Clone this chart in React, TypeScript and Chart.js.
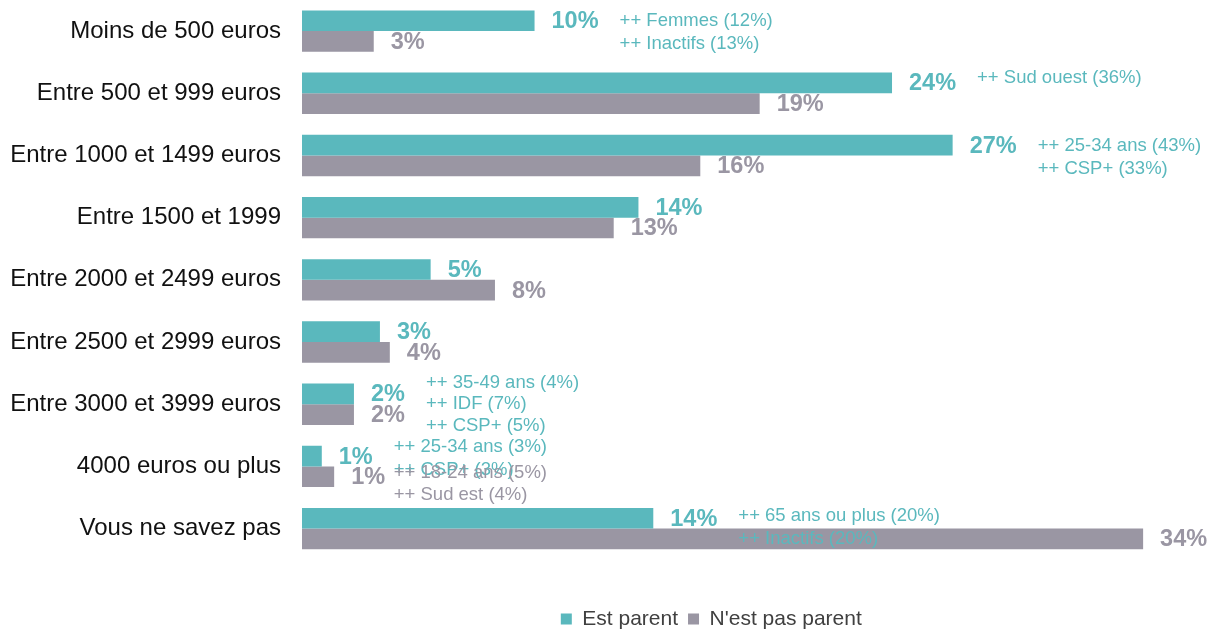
import React, { useEffect, useRef } from "react";
import { Chart, registerables } from "chart.js";

Chart.register(...registerables);

const CATEGORIES = [
  "Moins de 500 euros",
  "Entre 500 et 999 euros",
  "Entre 1000 et 1499 euros",
  "Entre 1500 et 1999",
  "Entre 2000 et 2499 euros",
  "Entre 2500 et 2999 euros",
  "Entre 3000 et 3999 euros",
  "4000 euros ou plus",
  "Vous ne savez pas",
];

const SERIES_NAMES = ["Est parent", "N'est pas parent"];

const PARENT_VALUES = [9.4, 23.85, 26.3, 13.6, 5.2, 3.15, 2.1, 0.8, 14.2];
const NON_PARENT_VALUES = [2.9, 18.5, 16.1, 12.6, 7.8, 3.55, 2.1, 1.3, 34.0];

const PARENT_LABELS = ["10%", "24%", "27%", "14%", "5%", "3%", "2%", "1%", "14%"];
const NON_PARENT_LABELS = ["3%", "19%", "16%", "13%", "8%", "4%", "2%", "1%", "34%"];

// Significance notes: row index, series index, text
const NOTE_ROWS = [0, 0, 1, 2, 2, 6, 6, 6, 7, 7, 7, 7, 8, 8];
const NOTE_SERIES = [0, 0, 0, 0, 0, 0, 0, 0, 0, 0, 1, 1, 0, 0];
const NOTE_TEXTS = [
  "++ Femmes (12%)",
  "++ Inactifs (13%)",
  "++ Sud ouest (36%)",
  "++ 25-34 ans (43%)",
  "++ CSP+ (33%)",
  "++ 35-49 ans (4%)",
  "++ IDF (7%)",
  "++ CSP+ (5%)",
  "++ 25-34 ans (3%)",
  "++ CSP+ (3%)",
  "++ 18-24 ans (5%)",
  "++ Sud est (4%)",
  "++ 65 ans ou plus (20%)",
  "++ Inactifs (20%)",
];
// vertical placement of each note, in text lines relative to the row centre
const NOTE_LINE_OFFSETS = [-0.45, 0.55, -0.7, -0.42, 0.6, -0.96, 0, 0.98, -0.88, 0.14, 0.27, 1.24, -0.55, 0.44];

const FONT = "'Liberation Sans', Arial, Helvetica, sans-serif";
const COLORS = ["#5AB8BD", "#9A96A3"];
const LEGEND_SHIFT = 115;

const labelsPlugin = {
  id: "valueLabels",
  afterLayout(chart: any) {
    const lg = chart.legend;
    if (lg) {
      lg.left += LEGEND_SHIFT;
      lg.right += LEGEND_SHIFT;
    }
  },
  afterDatasetsDraw(chart: any) {
    const ctx = chart.ctx;
    ctx.save();
    ctx.textBaseline = "middle";
    ctx.textAlign = "left";
    ctx.font = `bold 23.5px ${FONT}`;
    const ends: number[] = [];
    [PARENT_LABELS, NON_PARENT_LABELS].forEach((labels, di) => {
      const meta = chart.getDatasetMeta(di);
      meta.data.forEach((bar: any, i: number) => {
        ctx.fillStyle = COLORS[di];
        const x = bar.x + 17;
        ctx.fillText(labels[i], x, bar.y + 1);
        if (di === 0) ends[i] = x + ctx.measureText(labels[i]).width;
      });
    });
    ctx.font = `18.5px ${FONT}`;
    const yScale = chart.scales.y;
    NOTE_TEXTS.forEach((text, k) => {
      const row = NOTE_ROWS[k];
      const yc = yScale.getPixelForValue(row);
      ctx.fillStyle = COLORS[NOTE_SERIES[k]];
      ctx.fillText(text, ends[row] + 21, yc + NOTE_LINE_OFFSETS[k] * 22.6);
    });
    ctx.restore();
  },
};

export default function App() {
  const ref = useRef<HTMLCanvasElement | null>(null);
  useEffect(() => {
    if (!ref.current) return;
    const chart = new Chart(ref.current, {
      type: "bar",
      data: {
        labels: CATEGORIES,
        datasets: [
          {
            label: SERIES_NAMES[0],
            data: PARENT_VALUES,
            backgroundColor: COLORS[0],
            borderWidth: 0,
            barPercentage: 1,
            categoryPercentage: 0.665,
          },
          {
            label: SERIES_NAMES[1],
            data: NON_PARENT_VALUES,
            backgroundColor: COLORS[1],
            borderWidth: 0,
            barPercentage: 1,
            categoryPercentage: 0.665,
          },
        ],
      },
      options: {
        indexAxis: "y",
        animation: false,
        responsive: false,
        devicePixelRatio: 1,
        events: [],
        layout: { padding: { left: 0, right: 17.4, top: -1.5, bottom: -10.5 } },
        scales: {
          x: {
            min: 0,
            max: 36,
            display: true,
            ticks: { display: false },
            grid: { display: false },
            border: { display: false },
            afterFit: (s: any) => {
              s.height = 38.8;
            },
          },
          y: {
            grid: { display: false, drawTicks: false },
            border: { display: false },
            ticks: {
              padding: 21,
              color: "#111111",
              font: { family: FONT, size: 24 },
            },
            afterFit: (s: any) => {
              s.width = 302;
              s.paddingTop = -1.5;
              s.paddingBottom = 0;
            },
          },
        },
        plugins: {
          legend: {
            position: "bottom",
            labels: {
              boxWidth: 11,
              boxHeight: 11,
              padding: 10,
              color: "#404040",
              font: { family: FONT, size: 21 },
            },
          },
          tooltip: { enabled: false },
        },
      },
      plugins: [labelsPlugin],
    } as any);
    return () => chart.destroy();
  }, []);
  return (
    <div style={{ position: "fixed", left: 0, top: 0, width: 1210, height: 629, background: "#fff" }}>
      <canvas ref={ref} width={1210} height={629} />
    </div>
  );
}
